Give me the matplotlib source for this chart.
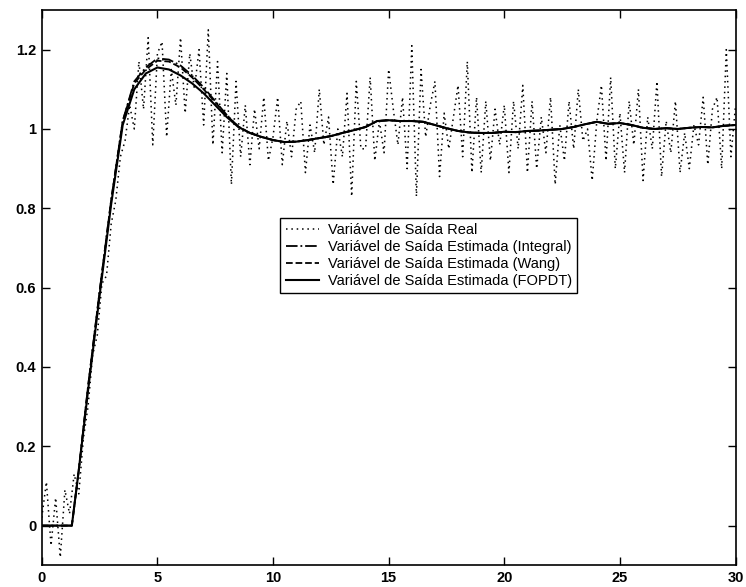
import numpy as np
import matplotlib
matplotlib.use("Agg")
import matplotlib.pyplot as plt

plt.rcParams['font.family'] = ['Liberation Sans', 'DejaVu Sans']

# Measured (noisy) output, sampled every 0.2 s from 0 to 30 s
t_real = np.arange(0, 30.01, 0.2)
y_real = [
    0.02, 0.11, -0.05, 0.07, -0.08, 0.09, 0.03, 0.13, 0.08, 0.22,
    0.30, 0.43, 0.48, 0.61, 0.63, 0.76, 0.82, 0.93, 0.97, 1.06,
    1.00, 1.17, 1.05, 1.23, 0.96, 1.19, 1.22, 0.98, 1.15, 1.06,
    1.23, 1.04, 1.19, 1.10, 1.20, 1.01, 1.25, 0.96, 1.17, 0.94,
    1.14, 0.86, 1.12, 0.93, 1.06, 0.91, 1.05, 0.95, 1.08, 0.92,
    0.98, 1.08, 0.91, 1.02, 0.93, 1.05, 1.07, 0.89, 1.01, 0.94,
    1.10, 0.96, 1.03, 0.86, 1.00, 0.93, 1.09, 0.83, 1.12, 0.95,
    0.95, 1.13, 0.92, 1.02, 0.94, 1.15, 1.05, 0.96, 1.08, 0.90,
    1.21, 0.83, 1.15, 0.98, 1.06, 1.12, 0.88, 1.04, 0.95, 1.03,
    1.11, 0.93, 1.17, 0.89, 1.08, 0.89, 1.07, 0.92, 1.05, 0.96,
    1.06, 0.89, 1.07, 0.95, 1.11, 0.89, 1.07, 0.90, 1.03, 0.94,
    1.08, 0.86, 1.01, 0.92, 1.07, 0.95, 1.10, 0.97, 1.00, 0.87,
    1.02, 1.11, 0.92, 1.13, 0.90, 1.04, 0.89, 1.07, 0.96, 1.10,
    0.87, 1.03, 0.95, 1.12, 0.88, 1.02, 0.94, 1.07, 0.89, 0.99,
    0.90, 1.01, 0.96, 1.08, 0.91, 1.05, 1.08, 0.90, 1.20, 0.93,
    1.06,
]

# Estimated outputs
t_est = [0, 1.3, 1.6, 2.0, 2.5, 3.0, 3.5, 4.0, 4.5, 5.0, 5.5, 6.0, 6.5, 7.0,
         7.5, 8.0, 8.5, 9.0, 9.5, 10.0, 10.5, 11.0, 11.5, 12.0, 12.5, 13.0,
         13.5, 14.0, 14.5, 15.0, 15.5, 16.0, 16.5, 17.0, 17.5, 18.0, 18.5,
         19.0, 19.5, 20.0, 20.5, 21.0, 21.5, 22.0, 22.5, 23.0, 23.5, 24.0,
         24.5, 25.0, 25.5, 26.0, 26.5, 27.0, 27.5, 28.0, 28.5, 29.0, 29.5, 30.0]
y_fopdt = [0, 0, 0.14, 0.34, 0.58, 0.81, 1.01, 1.10, 1.14, 1.155, 1.15, 1.135,
           1.115, 1.09, 1.06, 1.03, 1.005, 0.99, 0.98, 0.972, 0.967, 0.968,
           0.972, 0.977, 0.982, 0.99, 0.997, 1.005, 1.02, 1.022, 1.02, 1.02,
           1.018, 1.01, 1.002, 0.995, 0.991, 0.99, 0.99, 0.993, 0.992, 0.995,
           0.996, 0.998, 1.0, 1.005, 1.012, 1.018, 1.013, 1.015, 1.01, 1.003,
           1.0, 1.002, 1.0, 1.003, 1.005, 1.004, 1.008, 1.01]
y_integral = [0, 0, 0.14, 0.35, 0.59, 0.82, 1.02, 1.12, 1.155, 1.178, 1.175,
              1.16, 1.135, 1.105, 1.07, 1.035, 1.006, 0.99, 0.98, 0.972,
              0.967, 0.968, 0.972, 0.977, 0.982, 0.99, 0.997, 1.005, 1.02,
              1.022, 1.02, 1.02, 1.018, 1.01, 1.002, 0.995, 0.991, 0.99, 0.99,
              0.993, 0.992, 0.995, 0.996, 0.998, 1.0, 1.005, 1.012, 1.018,
              1.013, 1.015, 1.01, 1.003, 1.0, 1.002, 1.0, 1.003, 1.005, 1.004,
              1.008, 1.01]
y_wang = [0, 0, 0.14, 0.35, 0.59, 0.82, 1.02, 1.115, 1.15, 1.172, 1.17,
          1.155, 1.13, 1.10, 1.068, 1.034, 1.006, 0.99, 0.98, 0.972, 0.967,
          0.968, 0.972, 0.977, 0.982, 0.99, 0.997, 1.005, 1.02, 1.022, 1.02,
          1.02, 1.018, 1.01, 1.002, 0.995, 0.991, 0.99, 0.99, 0.993, 0.992,
          0.995, 0.996, 0.998, 1.0, 1.005, 1.012, 1.018, 1.013, 1.015, 1.01,
          1.003, 1.0, 1.002, 1.0, 1.003, 1.005, 1.004, 1.008, 1.01]

labels = ['Variável de Saída Real',
          'Variável de Saída Estimada (Integral)',
          'Variável de Saída Estimada (Wang)',
          'Variável de Saída Estimada (FOPDT)']

fig = plt.figure(figsize=(7.46, 5.87), dpi=100)
ax = fig.add_axes([0.056, 0.037, 0.93, 0.946])

# dotted line drawn as separate dots like the original print
ax.plot(t_real, y_real, linestyle=(0, (1, 2.5)), color='black', lw=1.1,
        label=labels[0])
ax.plot(t_est, y_integral, linestyle='-.', color='black', lw=1.3, label=labels[1])
ax.plot(t_est, y_wang, linestyle='--', color='black', lw=1.3, label=labels[2])
ax.plot(t_est, y_fopdt, linestyle='-', color='black', lw=1.5, label=labels[3])

ax.set_xlim(0, 30)
ax.set_ylim(-0.1, 1.3)
ax.set_xticks([0, 5, 10, 15, 20, 25, 30])
ax.set_yticks([0, 0.2, 0.4, 0.6, 0.8, 1.0, 1.2])
ax.set_yticklabels(['0', '0.2', '0.4', '0.6', '0.8', '1', '1.2'])
ax.tick_params(direction='in', top=True, right=True, length=6, width=1,
               labelsize=10.5, pad=4)
for lbl in ax.get_xticklabels() + ax.get_yticklabels():
    lbl.set_fontweight('bold')
for sp in ax.spines.values():
    sp.set_linewidth(1.2)

leg = ax.legend(loc='upper left', bbox_to_anchor=(0.344, 0.625), fontsize=10.5,
                frameon=True, fancybox=False, edgecolor='black',
                handlelength=2.3, borderpad=0.35, labelspacing=0.2,
                handletextpad=0.6, borderaxespad=0)
leg.get_frame().set_linewidth(1.0)
leg.get_frame().set_alpha(1)

fig.savefig('out.png', dpi=100)
